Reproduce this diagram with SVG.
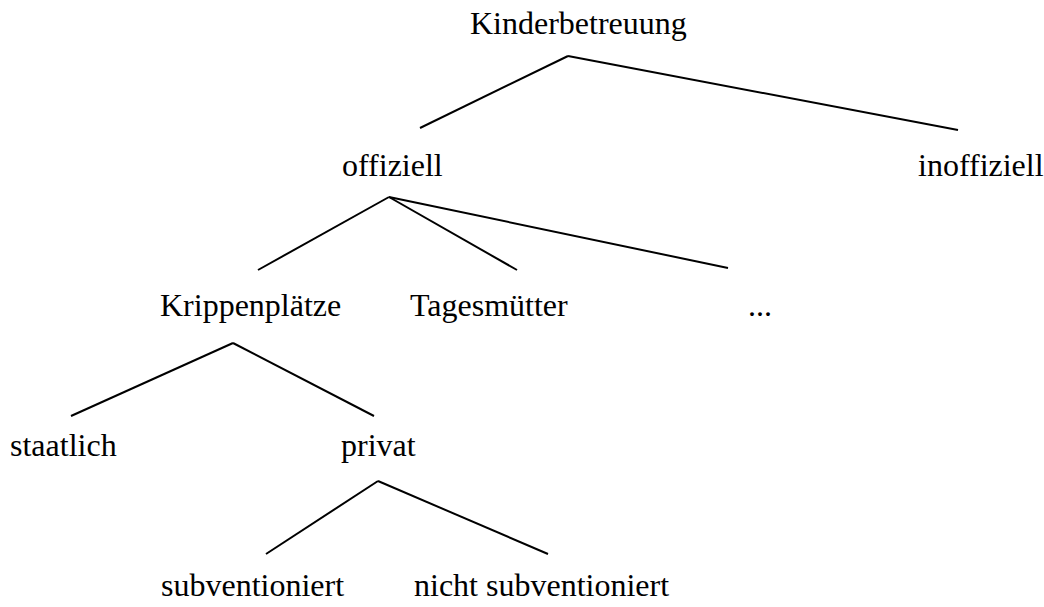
<svg xmlns="http://www.w3.org/2000/svg" width="1044" height="607" viewBox="0 0 1044 607">
<style>
text{font-family:"Liberation Serif","Times New Roman",serif;font-size:32px;fill:#000}
.c line{stroke:#000;stroke-width:2}
</style>
<rect width="1044" height="607" fill="#fff"/>
<g class="c" id="connectors">
<line x1="568" y1="56" x2="420" y2="128"/>
<line x1="568" y1="56" x2="958" y2="130"/>
<line x1="389" y1="197" x2="258" y2="270"/>
<line x1="389" y1="197" x2="517" y2="270"/>
<line x1="389" y1="197" x2="728" y2="268"/>
<line x1="233" y1="343" x2="71" y2="416"/>
<line x1="233" y1="343" x2="374" y2="416"/>
<line x1="378" y1="481" x2="266" y2="554"/>
<line x1="378" y1="481" x2="548" y2="554"/>
</g>
<g id="kinderbetreuung"><text x="470" y="34">Kinderbetreuung</text></g>
<g id="offiziell"><text x="342" y="176">offiziell</text></g>
<g id="inoffiziell"><text x="918" y="176">inoffiziell</text></g>
<g id="krippenplaetze"><text x="160" y="316">Krippenplätze</text></g>
<g id="tagesmuetter"><text x="410" y="316">Tagesmütter</text></g>
<g id="ellipsis"><text x="748" y="316">...</text></g>
<g id="staatlich"><text x="10" y="456">staatlich</text></g>
<g id="privat"><text x="341" y="456">privat</text></g>
<g id="subventioniert"><text x="161" y="596">subventioniert</text></g>
<g id="nicht-subventioniert"><text x="414" y="596">nicht subventioniert</text></g>
</svg>
